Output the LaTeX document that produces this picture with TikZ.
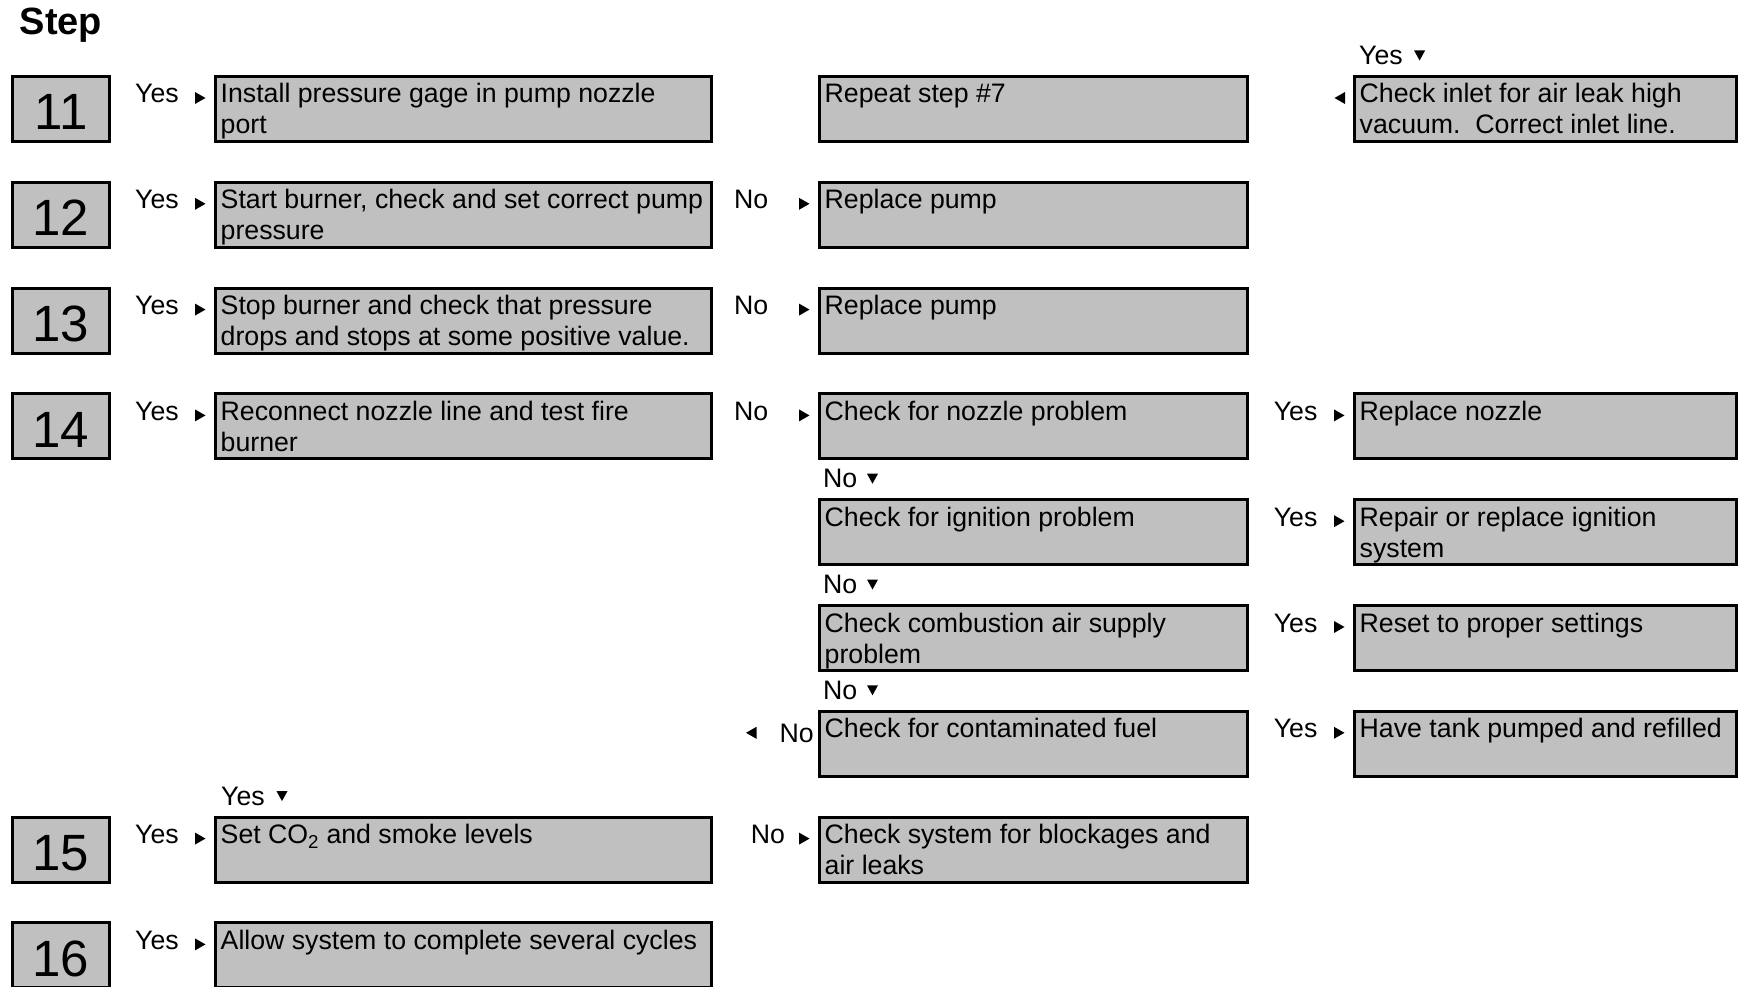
\documentclass[tikz,border=0pt]{standalone}
\usepackage{fontspec}
\setmainfont{Liberation Sans}
\usetikzlibrary{calc}
\definecolor{boxgray}{HTML}{C0C0C0}
\tikzset{
  flowbox/.style={draw=black, line width=3pt, fill=boxgray, outer sep=1.5pt, inner sep=0pt, anchor=north west, minimum height=65pt},
  sbox/.style={flowbox, minimum width=97pt},
  cbox/.style={flowbox, minimum width=496pt},
  dbox/.style={flowbox, minimum width=428pt},
  ebox/.style={flowbox, minimum width=382pt},
  boxtext/.style={anchor=base west, inner sep=0pt, font=\fontsize{26.7}{31}\selectfont},
  lbl/.style={anchor=base west, inner sep=0pt, font=\fontsize{26.7}{31}\selectfont},
  stepnum/.style={anchor=base, inner sep=0pt, font=\fontsize{51}{55}\selectfont},
  rtri/.pic={\fill (-5,-6) -- (5.5,0) -- (-5,6) -- cycle;},
  ltri/.pic={\fill (5,-6) -- (-5.5,0) -- (5,6) -- cycle;},
  dtri/.pic={\fill (-5.5,-4.5) -- (5.5,-4.5) -- (0,5.5) -- cycle;},
}
\newcommand{\bt}[2]{\parbox[t]{#1}{\raggedright\strut #2}}
\begin{document}
\begin{tikzpicture}[x=1pt,y=-1pt]
\path[use as bounding box] (0,0) rectangle (1741,987);
\clip (0,0) rectangle (1741,987);

\node[anchor=base west, inner sep=0pt, font=\fontsize{38}{42}\selectfont\bfseries] (title) at (19.5,34.4) {Step};

% ---------- Row 11 (top 75)
\node[sbox] (s11) at (11,75) {};
\node[stepnum] (n11) at (61,130) {11};
\node[lbl] (y11) at (135,103) {Yes};
\pic at (200,98) {rtri};
\node[cbox] (c11) at (214,75) {};
\node[boxtext] (tc11) at ($(c11.north west)+(6.5,28)$) {\bt{490pt}{Install pressure gage in pump nozzle\\port}};
\node[dbox] (d11) at (818,75) {};
\node[boxtext] (td11) at ($(d11.north west)+(6.5,28)$) {\bt{420pt}{Repeat step \#7}};
\node[lbl] (y11e) at (1359,64.5) {Yes};
\pic at (1419.6,55) {dtri};
\pic at (1340,98) {ltri};
\node[ebox] (e11) at (1353,75) {};
\node[boxtext] (te11) at ($(e11.north west)+(6.5,28)$) {\bt{375pt}{Check inlet for air leak high\\vacuum.~~Correct inlet line.}};

% ---------- Row 12 (top 180.8)
\node[sbox] (s12) at (11,180.8) {};
\node[stepnum] (n12) at (61,235.8) {12};
\node[lbl] (y12) at (135,208.8) {Yes};
\pic at (200,203.8) {rtri};
\node[cbox] (c12) at (214,180.8) {};
\node[boxtext] (tc12) at ($(c12.north west)+(6.5,28)$) {\bt{490pt}{Start burner, check and set correct pump\\pressure}};
\node[lbl] (n12d) at (734,208.8) {No};
\pic at (804,203.8) {rtri};
\node[dbox] (d12) at (818,180.8) {};
\node[boxtext] (td12) at ($(d12.north west)+(6.5,28)$) {\bt{420pt}{Replace pump}};

% ---------- Row 13 (top 286.6)
\node[sbox] (s13) at (11,286.6) {};
\node[stepnum] (n13) at (61,341.6) {13};
\node[lbl] (y13) at (135,314.6) {Yes};
\pic at (200,309.6) {rtri};
\node[cbox] (c13) at (214,286.6) {};
\node[boxtext] (tc13) at ($(c13.north west)+(6.5,28)$) {\bt{490pt}{Stop burner and check that pressure\\drops and stops at some positive value.}};
\node[lbl] (n13d) at (734,314.6) {No};
\pic at (804,309.6) {rtri};
\node[dbox] (d13) at (818,286.6) {};
\node[boxtext] (td13) at ($(d13.north west)+(6.5,28)$) {\bt{420pt}{Replace pump}};

% ---------- Row 14 (top 392.4)
\node[sbox] (s14) at (11,392.4) {};
\node[stepnum] (n14) at (61,447.4) {14};
\node[lbl] (y14) at (135,420.4) {Yes};
\pic at (200,415.4) {rtri};
\node[cbox] (c14) at (214,392.4) {};
\node[boxtext] (tc14) at ($(c14.north west)+(6.5,28)$) {\bt{490pt}{Reconnect nozzle line and test fire\\burner}};
\node[lbl] (n14d) at (734,420.4) {No};
\pic at (804,415.4) {rtri};
\node[dbox] (d14) at (818,392.4) {};
\node[boxtext] (td14) at ($(d14.north west)+(6.5,28)$) {\bt{420pt}{Check for nozzle problem}};
\node[lbl] (y14e) at (1273.6,420.4) {Yes};
\pic at (1339,415.4) {rtri};
\node[ebox] (e14) at (1353,392.4) {};
\node[boxtext] (te14) at ($(e14.north west)+(6.5,28)$) {\bt{375pt}{Replace nozzle}};

% ---------- Row 14b (top 498.2)
\node[lbl] (no14b) at (823,487.7) {No};
\pic at (872.5,478.2) {dtri};
\node[dbox] (d14b) at (818,498.2) {};
\node[boxtext] (td14b) at ($(d14b.north west)+(6.5,28)$) {\bt{420pt}{Check for ignition problem}};
\node[lbl] (y14b) at (1273.6,526.2) {Yes};
\pic at (1339,521.2) {rtri};
\node[ebox] (e14b) at (1353,498.2) {};
\node[boxtext] (te14b) at ($(e14b.north west)+(6.5,28)$) {\bt{375pt}{Repair or replace ignition\\system}};

% ---------- Row 14c (top 604)
\node[lbl] (no14c) at (823,593.5) {No};
\pic at (872.5,584) {dtri};
\node[dbox] (d14c) at (818,604) {};
\node[boxtext] (td14c) at ($(d14c.north west)+(6.5,28)$) {\bt{420pt}{Check combustion air supply\\problem}};
\node[lbl] (y14c) at (1273.6,632) {Yes};
\pic at (1339,627) {rtri};
\node[ebox] (e14c) at (1353,604) {};
\node[boxtext] (te14c) at ($(e14c.north west)+(6.5,28)$) {\bt{375pt}{Reset to proper settings}};

% ---------- Row 14d (top 709.8)
\node[lbl] (no14d) at (823,699.3) {No};
\pic at (872.5,689.8) {dtri};
\pic at (751.5,732.8) {ltri};
\node[lbl] (no14l) at (779.5,742.3) {No};
\node[dbox] (d14d) at (818,709.8) {};
\node[boxtext] (td14d) at ($(d14d.north west)+(6.5,28)$) {\bt{420pt}{Check for contaminated fuel}};
\node[lbl] (y14d) at (1273.6,737.8) {Yes};
\pic at (1339,732.8) {rtri};
\node[ebox] (e14d) at (1353,709.8) {};
\node[boxtext] (te14d) at ($(e14d.north west)+(6.5,28)$) {\bt{375pt}{Have tank pumped and refilled}};

% ---------- Row 15 (top 815.6)
\node[lbl] (y15t) at (221,805.1) {Yes};
\pic at (282,795.6) {dtri};
\node[sbox] (s15) at (11,815.6) {};
\node[stepnum] (n15) at (61,870.6) {15};
\node[lbl] (y15) at (135,843.6) {Yes};
\pic at (200,838.6) {rtri};
\node[cbox] (c15) at (214,815.6) {};
\node[boxtext] (tc15) at ($(c15.north west)+(6.5,28)$) {\bt{490pt}{Set CO\textsubscript{2} and smoke levels}};
\node[lbl] (n15d) at (750.6,843.6) {No};
\pic at (804,838.6) {rtri};
\node[dbox] (d15) at (818,815.6) {};
\node[boxtext] (td15) at ($(d15.north west)+(6.5,28)$) {\bt{420pt}{Check system for blockages and\\air leaks}};

% ---------- Row 16 (top 921.4)
\node[sbox] (s16) at (11,921.4) {};
\node[stepnum] (n16) at (61,976.4) {16};
\node[lbl] (y16) at (135,949.4) {Yes};
\pic at (200,944.4) {rtri};
\node[cbox] (c16) at (214,921.4) {};
\node[boxtext] (tc16) at ($(c16.north west)+(6.5,28)$) {\bt{490pt}{Allow system to complete several cycles}};
\end{tikzpicture}
\end{document}
